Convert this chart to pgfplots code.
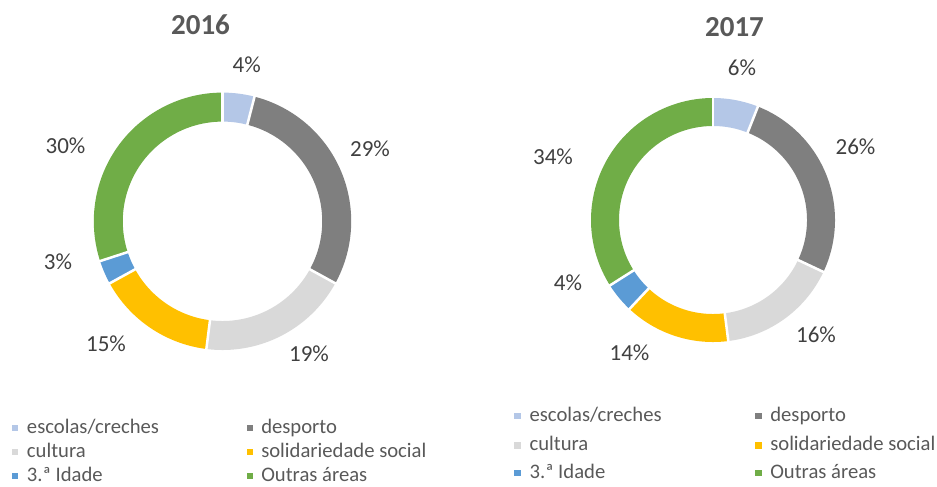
\documentclass[border=0pt]{standalone}
\usepackage{fontspec}
\setmainfont{Carlito}
\usepackage{pgfplots}
\usepackage{pgfplotstable}
\pgfplotsset{compat=1.18}
\definecolor{cEsc}{HTML}{B4C7E7}
\definecolor{cDes}{HTML}{7F7F7F}
\definecolor{cCul}{HTML}{D9D9D9}
\definecolor{cSol}{HTML}{FFC000}
\definecolor{cIda}{HTML}{5B9BD5}
\definecolor{cOut}{HTML}{70AD47}
\definecolor{txt}{HTML}{404040}
\definecolor{ttl}{HTML}{595959}

\pgfplotstableread[col sep=comma]{
name,v16,v17,color,lx16,ly16,lx17,ly17
escolas/creches,4,6,cEsc,246.7,72,742,75
desporto,29,26,cDes,370,156,855.5,154.7
cultura,19,16,cCul,309,361.7,816,342.7
solidariedade social,15,14,cSol,106,351.7,629.5,360
3.ª Idade,3,4,cIda,58,269,568,290.7
Outras áreas,30,34,cOut,65.5,153,553,164
}\donut

\tikzset{
 lbl/.style={font=\fontsize{17.25}{20}\selectfont, text=txt, anchor=base, inner sep=0pt},
 leg/.style={font=\fontsize{15.5}{18}\selectfont, text=ttl, anchor=base west, inner sep=0pt},
 ttlstyle/.style={font=\fontsize{21.75}{26}\selectfont\bfseries, text=ttl, anchor=base, inner sep=0pt},
}

% #1 value column, #2 cx, #3 cy, #4 outer radius, #5 thickness, #6 label x col, #7 label y col
\newcommand\drawdonut[7]{%
  \def\astart{0}%
  \pgfmathsetmacro\rmid{#4-#5/2}%
  \pgfmathsetmacro\lw{#5*0.75}%
  \pgfplotsforeachungrouped \i in {0,...,5}{%
    \pgfplotstablegetelem{\i}{#1}\of\donut\let\v\pgfplotsretval
    \pgfplotstablegetelem{\i}{color}\of\donut\let\c\pgfplotsretval
    \pgfplotstablegetelem{\i}{#6}\of\donut\let\lx\pgfplotsretval
    \pgfplotstablegetelem{\i}{#7}\of\donut\let\ly\pgfplotsretval
    \pgfmathsetmacro\aend{\astart+3.6*\v}%
    \edef\cmd{\noexpand\addplot[draw=\c, line width=\lw pt, domain=\astart:\aend, samples=90] ({#2+\rmid*sin(x)},{#3-\rmid*cos(x)});
      \noexpand\node[lbl] at (axis cs:\lx,\ly) {\v\noexpand\%};}%
    \cmd
    \let\astart\aend
  }%
  \pgfmathsetmacro\rin{#4-#5-2}%
  \pgfmathsetmacro\rout{#4+2}%
  \def\astart{0}%
  \pgfplotsforeachungrouped \i in {0,...,5}{%
    \pgfplotstablegetelem{\i}{#1}\of\donut\let\v\pgfplotsretval
    \edef\cmd{\noexpand\addplot[white, line width=1.9pt, domain=\rin:\rout, samples=2] ({#2+x*sin(\astart)},{#3-x*cos(\astart)});}%
    \cmd
    \pgfmathsetmacro\aend{\astart+3.6*\v}%
    \let\astart\aend
  }%
}

% #1 row index, #2 marker centre x, #3 baseline y, #4 text x
\newcommand\legentry[4]{%
  \pgfplotstablegetelem{#1}{name}\of\donut\let\nm\pgfplotsretval
  \pgfplotstablegetelem{#1}{color}\of\donut\let\c\pgfplotsretval
  \edef\cmd{\noexpand\fill[\c] (axis cs:{#2-3.4},{#3-8.4}) rectangle (axis cs:{#2+3.4},{#3-1.6});
    \noexpand\node[leg] at (axis cs:#4,#3) {\nm};}%
  \cmd
}

\begin{document}
\begin{tikzpicture}
\begin{axis}[
  x=0.75pt, y=0.75pt, y dir=reverse,
  xmin=0, xmax=937, ymin=0, ymax=486,
  hide axis, clip=false,
]
\path (axis cs:0,0) rectangle (axis cs:937,486);
\drawdonut{v16}{222.5}{221.3}{128.7}{29}{lx16}{ly16}
\drawdonut{v17}{713}{220}{122}{28}{lx17}{ly17}
\node[ttlstyle] at (axis cs:200.5,34.5) {2016};
\node[ttlstyle] at (axis cs:734.5,36) {2017};
% legend 2016
\legentry{0}{15}{433}{26.7}
\legentry{1}{250}{433}{261}
\legentry{2}{15}{457}{26.7}
\legentry{3}{250}{457}{261}
\legentry{4}{15}{481}{26.7}
\legentry{5}{250}{481}{261}
% legend 2017
\legentry{0}{517.7}{421}{529.3}
\legentry{1}{758.3}{421}{770}
\legentry{2}{517.7}{450.7}{529.3}
\legentry{3}{758.3}{450.7}{770}
\legentry{4}{517.7}{478}{529.3}
\legentry{5}{758.3}{478}{770}
\end{axis}
\end{tikzpicture}
\end{document}
